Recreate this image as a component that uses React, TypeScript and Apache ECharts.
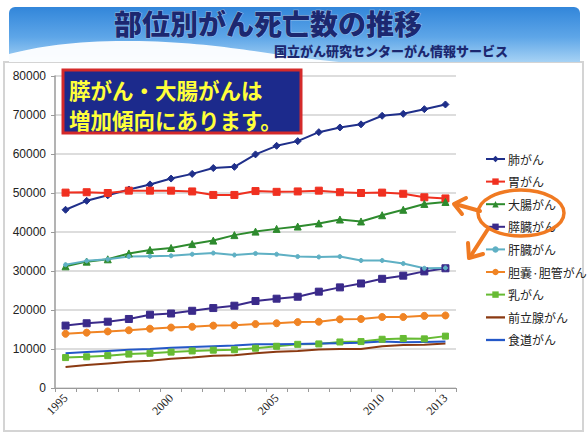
import React, { useEffect, useRef } from "react";
import * as echarts from "echarts";

const years = ["1995","1996","1997","1998","1999","2000","2001","2002","2003","2004","2005","2006","2007","2008","2009","2010","2011","2012","2013"];
const shownYears = ["1995", "2000", "2005", "2010", "2013"];
const yTicks = [0, 10000, 20000, 30000, 40000, 50000, 60000, 70000, 80000];

const lung = [45700, 48000, 49400, 50900, 52200, 53700, 54900, 56400, 56700, 59900, 62100, 63300, 65600, 66800, 67600, 69800, 70300, 71500, 72700];
const stomach = [50100, 50200, 50000, 50600, 50600, 50600, 50400, 49500, 49500, 50500, 50300, 50400, 50600, 50200, 50000, 50100, 49800, 48900, 48600];
const colorectal = [31200, 32400, 33000, 34500, 35400, 35900, 36900, 37800, 39200, 40100, 40800, 41400, 42200, 43200, 42700, 44300, 45700, 47200, 47700];
const pancreas = [16000, 16600, 17000, 17700, 18800, 19100, 19800, 20500, 21100, 22300, 22900, 23400, 24700, 25800, 26800, 28000, 28800, 29900, 30700];
const liver = [31600, 32600, 33000, 33700, 33800, 33900, 34300, 34600, 34100, 34500, 34300, 33700, 33600, 33700, 32700, 32700, 31900, 30700, 30800];
const bile = [13900, 14200, 14500, 14800, 15200, 15500, 15700, 16000, 16100, 16400, 16600, 16900, 17000, 17600, 17700, 18200, 18200, 18500, 18600];
const breast = [7800, 8000, 8300, 8700, 8900, 9200, 9500, 9700, 9800, 10200, 10700, 11200, 11300, 11800, 11900, 12500, 12700, 12600, 13300];
const prostate = [5400, 5900, 6300, 6700, 7000, 7500, 7800, 8300, 8400, 8900, 9300, 9500, 9900, 10000, 10000, 10700, 11000, 11100, 11400];
const esophagus = [8900, 9200, 9500, 9800, 10000, 10300, 10500, 10700, 10900, 11200, 11200, 11300, 11400, 11500, 11600, 11900, 11700, 11800, 11900];

const seriesDefs = [
  { name: "肺がん", data: lung, color: "#1f2f8a", symbol: "diamond", size: 7 },
  { name: "胃がん", data: stomach, color: "#f03020", symbol: "rect", size: 7 },
  { name: "大腸がん", data: colorectal, color: "#2e8b2e", symbol: "triangle", size: 7 },
  { name: "膵臓がん", data: pancreas, color: "#3a2a8a", symbol: "rect", size: 7 },
  { name: "肝臓がん", data: liver, color: "#5fb0c4", symbol: "circle", size: 4 },
  { name: "胆嚢·胆管がん", data: bile, color: "#f08424", symbol: "circle", size: 7 },
  { name: "乳がん", data: breast, color: "#66bb33", symbol: "rect", size: 6 },
  { name: "前立腺がん", data: prostate, color: "#8b3a12", symbol: "none", size: 0 },
  { name: "食道がん", data: esophagus, color: "#2458c8", symbol: "none", size: 0 },
];

const JP = "'Noto Sans CJK JP', 'Noto Sans', sans-serif";
const LINE_ICON = "path://M0,0 M0,3 L20,3 L20,5.4 L0,5.4 Z M20,8";

export default function App() {
  const ref = useRef<HTMLDivElement>(null);
  useEffect(() => {
    if (!ref.current) return;
    echarts.graphic.registerShape(
      "swoosh",
      echarts.graphic.extendPath("M0,62 L0,54 C30,46 70,40 130,41 C220,43 260,56 330,62 Z", {})
    );
    const chart = echarts.init(ref.current, null, { renderer: "svg" });
    const option: any = {
      animation: false,
      backgroundColor: "#ffffff",
      grid: { left: 55, right: 132, top: 76, bottom: 51 },
      xAxis: {
        type: "category",
        data: years,
        boundaryGap: true,
        axisLine: { lineStyle: { color: "#9a9a9a", width: 1 } },
        axisTick: { show: true, interval: 0, length: 4, lineStyle: { color: "#9a9a9a" } },
        axisLabel: {
          interval: 0,
          rotate: 45,
          fontSize: 12,
          color: "#222",
          fontFamily: "'Liberation Serif', serif",
          formatter: (v: string) => (shownYears.includes(v) ? v : ""),
        },
        splitLine: { show: false },
      },
      yAxis: {
        type: "value",
        min: yTicks[0],
        max: yTicks[yTicks.length - 1],
        interval: 10000,
        axisLine: { show: true, lineStyle: { color: "#9a9a9a", width: 1.5 } },
        axisTick: { show: true, length: 4, lineStyle: { color: "#9a9a9a" } },
        axisLabel: {
          fontSize: 12,
          color: "#222",
          fontFamily: "'Liberation Sans', Arial, sans-serif",
          margin: 9,
          formatter: (v: number) => String(v),
        },
        splitLine: { show: true, lineStyle: { color: "#d2d2d2", width: 1.5 } },
      },
      legend: {
        orient: "vertical",
        left: 480,
        top: 147,
        itemGap: 8.6,
        itemWidth: 19,
        itemHeight: 8,
        textStyle: { fontSize: 12, lineHeight: 14, color: "#222", fontFamily: JP, padding: [0, 0, 0, -2] },
        data: seriesDefs.map((s) =>
          s.symbol === "none" ? { name: s.name, icon: LINE_ICON } : { name: s.name }
        ),
      },
      series: seriesDefs.map((s) => ({
        name: s.name,
        type: "line",
        data: s.data,
        symbol: s.symbol,
        symbolSize: s.size,
        showSymbol: s.symbol !== "none",
        lineStyle: { color: s.color, width: 2 },
        itemStyle: { color: s.color, borderColor: s.color },
        emphasis: { disabled: true },
      })),
      graphic: [
        {
          type: "rect",
          shape: { x: 4, y: 62, width: 579, height: 369 },
          style: { fill: "none", stroke: "#d4d4d4", lineWidth: 2 },
          z: -1,
        },
        {
          type: "rect",
          shape: { x: 9, y: 7, width: 571, height: 55, r: [6, 6, 0, 0] },
          style: {
            fill: new echarts.graphic.LinearGradient(0, 0, 0, 1, [
              { offset: 0, color: "#3286da" },
              { offset: 0.55, color: "#5ea6e8" },
              { offset: 1, color: "#a6d2f4" },
            ]),
          },
          z: 1,
        },
        {
          type: "swoosh",
          x: 9,
          y: 0,
          style: { fill: "rgba(255,255,255,0.95)" },
          z: 2,
        },
        {
          type: "text",
          x: 268,
          y: 23,
          style: {
            text: "部位別がん死亡数の推移",
            font: "900 28px 'Noto Sans CJK JP'",
            fill: "#1c2870",
            stroke: "#9cc2ea",
            lineWidth: 1,
            align: "center",
            verticalAlign: "middle",
          },
          z: 3,
        },
        {
          type: "text",
          x: 391,
          y: 50,
          style: {
            text: "国立がん研究センターがん情報サービス",
            font: "900 13px 'Noto Sans CJK JP'",
            fill: "#1c2870",
            align: "center",
            verticalAlign: "middle",
          },
          z: 3,
        },
        {
          type: "rect",
          shape: { x: 63, y: 70, width: 238, height: 63 },
          style: { fill: "#1c2a8c", stroke: "#d42a2a", lineWidth: 3 },
          z: 10,
        },
        {
          type: "text",
          x: 69,
          y: 89,
          style: {
            text: "膵がん・大腸がんは",
            font: "bold 21.5px 'Noto Sans CJK JP'",
            fill: "#ffff3a",
            align: "left",
            verticalAlign: "middle",
          },
          z: 11,
        },
        {
          type: "text",
          x: 69,
          y: 119,
          style: {
            text: "増加傾向にあります。",
            font: "bold 21.5px 'Noto Sans CJK JP'",
            fill: "#ffff3a",
            align: "left",
            verticalAlign: "middle",
          },
          z: 11,
        },
        {
          type: "ellipse",
          shape: { cx: 521, cy: 213, rx: 43, ry: 23 },
          style: { fill: "none", stroke: "#f07a22", lineWidth: 3.5 },
          z: 12,
        },
        {
          type: "line",
          shape: { x1: 480, y1: 211, x2: 455, y2: 204 },
          style: { stroke: "#f07a22", lineWidth: 4, lineCap: "round" },
          z: 12,
        },
        {
          type: "polyline",
          shape: { points: [[466, 198], [454, 204], [462, 214]] },
          style: { stroke: "#f07a22", lineWidth: 4, fill: "none", lineCap: "round", lineJoin: "round" },
          z: 12,
        },
        {
          type: "line",
          shape: { x1: 488, y1: 229, x2: 470, y2: 257 },
          style: { stroke: "#f07a22", lineWidth: 4, lineCap: "round" },
          z: 12,
        },
        {
          type: "polyline",
          shape: { points: [[468, 243], [469, 258], [483, 254]] },
          style: { stroke: "#f07a22", lineWidth: 4, fill: "none", lineCap: "round", lineJoin: "round" },
          z: 12,
        },
      ],
    };
    chart.setOption(option);
    return () => chart.dispose();
  }, []);
  return (
    <div
      ref={ref}
      style={{ position: "fixed", left: 0, top: 0, width: 588, height: 439 }}
    />
  );
}
